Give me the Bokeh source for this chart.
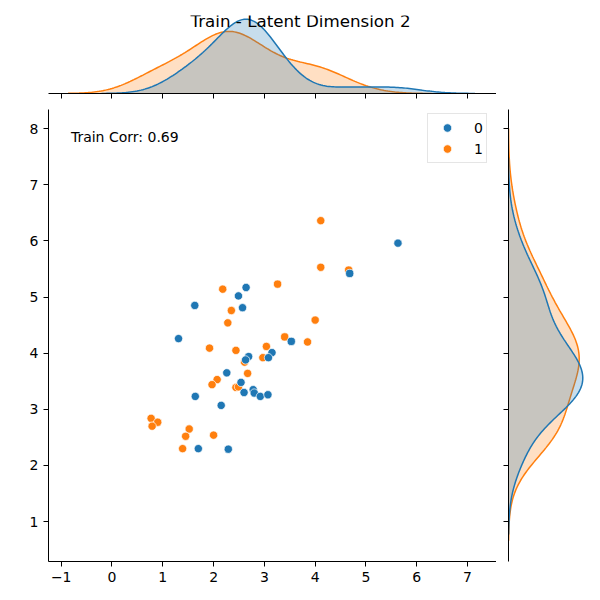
import numpy as np
from bokeh.plotting import figure
from bokeh.layouts import column, row
from bokeh.models import Label, Legend, LegendItem, FixedTicker, Range1d, Spacer
from bokeh.embed import file_html
from bokeh.resources import INLINE

# latent dimension 2 scores, grouped by class label
blue_x = [2.64, 2.49, 1.63, 2.57, 1.31, 3.53, 3.15, 2.69, 2.63, 3.08, 2.26, 2.54,
          2.60, 2.78, 2.80, 2.92, 3.07, 1.64, 2.15, 1.70, 2.29, 5.63, 4.68]
blue_y = [5.17, 5.02, 4.85, 4.81, 4.26, 4.21, 4.01, 3.94, 3.88, 3.92, 3.65, 3.48,
          3.30, 3.35, 3.29, 3.23, 3.26, 3.23, 3.07, 2.30, 2.29, 5.96, 5.42]
orange_x = [2.18, 3.26, 2.35, 2.28, 3.40, 1.92, 2.44, 3.04, 2.61, 2.97, 2.67, 2.07,
            1.97, 2.44, 2.49, 0.77, 0.90, 0.79, 1.52, 1.45, 2.00, 1.39, 4.11, 4.11,
            4.66, 4.00, 3.85]
orange_y = [5.14, 5.23, 4.76, 4.54, 4.29, 4.09, 4.05, 4.12, 3.84, 3.92, 3.64, 3.53,
            3.44, 3.39, 3.40, 2.84, 2.77, 2.70, 2.65, 2.52, 2.54, 2.30, 6.36, 5.53,
            5.48, 4.59, 4.20]
class_labels = ["0", "1"]
title_text = "Train - Latent Dimension 2"
corr_text = "Train Corr: 0.69"
x_ticks = [-1, 0, 1, 2, 3, 4, 5, 6, 7]
y_ticks = [1, 2, 3, 4, 5, 6, 7, 8]

BLUE = "#1f77b4"
ORANGE = "#ff7f0e"
FONT = "DejaVu Sans"
N_TOTAL = len(blue_x) + len(orange_x)


def kde(values, n_total, gridsize=200, cut=3):
    v = np.asarray(values, dtype=float)
    n = len(v)
    bw = n ** (-1 / 5) * np.std(v, ddof=1)
    grid = np.linspace(v.min() - cut * bw, v.max() + cut * bw, gridsize)
    z = (grid[:, None] - v[None, :]) / bw
    dens = np.exp(-0.5 * z ** 2).sum(axis=1) / (n * bw * np.sqrt(2 * np.pi))
    return grid, dens * n / n_total


xr = Range1d(-1.25, 7.57)
yr = Range1d(0.29, 8.34)


def style_axis(ax, ticks, labels=True):
    ax.ticker = FixedTicker(ticks=ticks)
    ax.axis_line_color = "black"
    ax.axis_line_width = 1
    ax.major_tick_line_color = "black"
    ax.major_tick_out = 5
    ax.major_tick_in = 0
    ax.minor_tick_line_color = None
    if labels:
        ax.major_label_text_font = FONT
        ax.major_label_text_font_size = "14px"
        ax.major_label_text_color = "black"
        ax.major_label_standoff = 5
    else:
        # marginal axes keep their tick marks but carry no tick labels
        ax.major_label_overrides = {t: "" for t in ticks}
        ax.major_label_text_font_size = "8px"
        ax.major_label_standoff = 0


# main scatter panel
main = figure(width=496, height=491, x_range=xr, y_range=yr,
              output_backend="svg", toolbar_location=None,
              min_border_left=48, min_border_right=0,
              min_border_top=0, min_border_bottom=39)
main.outline_line_color = None
main.grid.grid_line_color = None
style_axis(main.xaxis[0], x_ticks)
style_axis(main.yaxis[0], y_ticks)

r_orange = main.scatter(orange_x, orange_y, size=8.3, fill_color=ORANGE,
                        line_color="white", line_width=0.7)
r_blue = main.scatter(blue_x, blue_y, size=8.3, fill_color=BLUE,
                      line_color="white", line_width=0.7)

legend = Legend(items=[LegendItem(label=class_labels[0], renderers=[r_blue]),
                       LegendItem(label=class_labels[1], renderers=[r_orange])],
                location=(379, 398), margin=0, padding=3, spacing=0,
                glyph_width=32, glyph_height=21, label_height=21, label_width=8,
                label_standoff=11, label_text_font=FONT,
                label_text_font_size="14px", label_text_color="black",
                border_line_color="#cccccc", border_line_width=1,
                background_fill_alpha=0.8)
main.add_layout(legend)

main.add_layout(Label(x=xr.start + 0.05 * (xr.end - xr.start),
                      y=yr.start + 0.95 * (yr.end - yr.start) + 0.05,
                      text=corr_text, text_font=FONT, text_font_size="14px",
                      text_color="black", text_baseline="top"))

# marginal densities
bx_grid, bx_d = kde(blue_x, N_TOTAL)
ox_grid, ox_d = kde(orange_x, N_TOTAL)
by_grid, by_d = kde(blue_y, N_TOTAL)
oy_grid, oy_d = kde(orange_y, N_TOTAL)

top = figure(width=496, height=109, x_range=xr,
             y_range=Range1d(0, 1.05 * max(bx_d.max(), ox_d.max())),
             output_backend="svg", toolbar_location=None, y_axis_location=None,
             min_border_left=48, min_border_right=0,
             min_border_top=15, min_border_bottom=16)
top.outline_line_color = None
top.grid.grid_line_color = None
style_axis(top.xaxis[0], x_ticks, labels=False)

for g, d, c in [(ox_grid, ox_d, ORANGE), (bx_grid, bx_d, BLUE)]:
    top.patch(np.concatenate([g, g[::-1]]), np.concatenate([d, np.zeros_like(d)]),
              fill_color=c, fill_alpha=0.25, line_color=None)
    top.line(g, d, line_color=c, line_width=1.5)

top.add_layout(Label(x=252, y=73, x_units="screen", y_units="screen",
                     text=title_text, text_font=FONT, text_font_size="16.7px",
                     text_color="black", text_align="center",
                     text_baseline="alphabetic"))

right = figure(width=104, height=491, y_range=yr,
               x_range=Range1d(0, 1.05 * max(by_d.max(), oy_d.max())),
               output_backend="svg", toolbar_location=None, x_axis_location=None,
               min_border_left=12, min_border_right=14,
               min_border_top=0, min_border_bottom=39)
right.outline_line_color = None
right.grid.grid_line_color = None
style_axis(right.yaxis[0], y_ticks, labels=False)

for g, d, c in [(oy_grid, oy_d, ORANGE), (by_grid, by_d, BLUE)]:
    right.patch(np.concatenate([d, np.zeros_like(d)]), np.concatenate([g, g[::-1]]),
                fill_color=c, fill_alpha=0.25, line_color=None)
    right.line(d, g, line_color=c, line_width=1.5)

layout = column(row(top, Spacer(width=104, height=109)), row(main, right))

open("out.html", "w").write(file_html(layout, INLINE))
